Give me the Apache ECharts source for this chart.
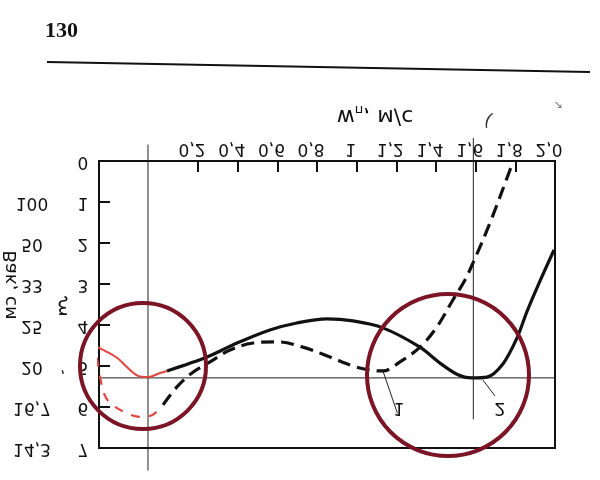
<!DOCTYPE html>
<html>
<head>
<meta charset="utf-8">
<script src="https://cdn.jsdelivr.net/npm/echarts@6/dist/echarts.min.js"></script>
<style>
  html, body { margin: 0; background: #fff; }
  #chart { width: 600px; height: 480px; }
</style>
</head>
<body>
<div id="chart"></div>
<script>
// шкала скоростей сверху и номер моды слева
const xTicks = [0.2, 0.4, 0.6, 0.8, 1.0, 1.2, 1.4, 1.6, 1.8, 2.0]
const xTickLabels = ['0,2', '0,4', '0,6', '0,8', '1', '1,2', '1,4', '1,6', '1,8', '2,0']
const yTicks = [0, 1, 2, 3, 4, 5, 6, 7]
const yTickLabels = ['0', '1', '2', '3', '4', '5', '6', '7']
const lambdaLabels = ['', '100', '50', '33', '25', '20', '16,7', '14,3']

// кривая 2 (сплошная) и кривая 1 (штриховая)
const curve2 = [[0.043, 5.12], [0.245, 4.78], [0.396, 4.44], [0.562, 4.12], [0.698, 3.95], [0.85, 3.85],
  [0.981, 3.9], [1.132, 4.07], [1.319, 4.54], [1.42, 4.93], [1.505, 5.2], [1.581, 5.29], [1.657, 5.27],
  [1.737, 4.95], [1.808, 4.32], [1.858, 3.68], [1.924, 2.93], [1.995, 2.17]]
const curve1 = [[0.023, 5.95], [0.093, 5.51], [0.169, 5.17], [0.26, 4.9], [0.361, 4.61], [0.477, 4.44],
  [0.598, 4.41], [0.729, 4.54], [0.865, 4.78], [0.981, 5.0], [1.067, 5.1], [1.132, 5.12], [1.218, 4.9],
  [1.319, 4.54], [1.404, 4.05], [1.485, 3.39], [1.546, 2.9], [1.586, 2.49], [1.672, 1.51], [1.773, 0.22],
  [1.79, 0.0]]
// красные дорисовки
const redSolid = [[-0.32, 4.51], [-0.27, 4.63], [-0.209, 4.8], [-0.154, 5.05], [-0.103, 5.24],
  [-0.053, 5.27], [0.008, 5.17], [0.043, 5.12]]
const redDashed = [[-0.31, 4.8], [-0.28, 5.59], [-0.245, 5.9], [-0.159, 6.15], [-0.093, 6.24],
  [-0.033, 6.2], [0.023, 5.95]]
// тонкие линии
const hLine = [[-0.33, 5.29], [2.0, 5.29]]
const vLine1 = [[-0.053, -0.4], [-0.053, 7.55]]
const vLine2 = [[1.588, -0.56], [1.588, 6.3]]
const leader1 = [[1.132, 5.12], [1.205, 6.15]]
const leader2 = [[1.636, 5.34], [1.697, 5.73]]

const FONT = 'DejaVu Sans'
const INK = '#111'

function line(data, color, width, type, smooth, z) {
  return {
    type: 'line', data, smooth, symbol: 'none', clip: false, silent: true,
    lineStyle: { color, width, type }, z
  }
}

const chart = echarts.init(document.getElementById('chart'))
chart.setOption({
  animation: false,
  backgroundColor: '#fff',
  grid: { left: 99, right: 45, top: 161, bottom: 32, show: true, borderColor: INK, borderWidth: 2 },
  xAxis: {
    type: 'value', position: 'top', min: -0.3, max: 2.0,
    axisLine: { show: true, onZero: false, lineStyle: { color: INK, width: 2 } },
    axisTick: { show: true, inside: true, length: 11, customValues: xTicks, lineStyle: { color: INK, width: 2 } },
    axisLabel: { show: false },
    splitLine: { show: false }
  },
  yAxis: {
    type: 'value', inverse: true, min: 0, max: 7, interval: 1,
    axisLine: { show: true, onZero: false, lineStyle: { color: INK, width: 2 } },
    axisTick: { show: true, inside: true, length: 11, lineStyle: { color: INK, width: 2 } },
    axisLabel: { show: false },
    splitLine: { show: false }
  },
  series: [
    line(hLine, '#222', 1, 'solid', false, 2),
    line(vLine1, '#222', 1, 'solid', false, 2),
    line(vLine2, '#222', 1, 'solid', false, 2),
    line(leader1, '#222', 1, 'solid', false, 2),
    line(leader2, '#222', 1, 'solid', false, 2),
    line(curve2, INK, 3.2, 'solid', 0.3, 5),
    line(curve1, INK, 3.2, [13, 7], 0.35, 5),
    line(redSolid, '#e0453f', 2, 'solid', 0.35, 6),
    line(redDashed, '#e0453f', 2.2, [9, 9], 0.35, 6)
  ]
})

// подписи в скане перевёрнуты по вертикали
function flipText(x, y, text, size, extra) {
  return Object.assign({
    type: 'text', x, y, scaleY: -1, z: 100, silent: true,
    style: {
      text, fontSize: size, fontFamily: FONT, fill: INK,
      align: 'center', verticalAlign: 'middle', textAlign: 'center', textVerticalAlign: 'middle'
    }
  }, extra || {})
}

const graphics = []
xTicks.forEach((v, i) => {
  const px = chart.convertToPixel({ xAxisIndex: 0 }, v)
  graphics.push(flipText(px - 6, 148, xTickLabels[i], 17))
})
yTicks.forEach((v, i) => {
  const py = chart.convertToPixel({ yAxisIndex: 0 }, v)
  graphics.push(flipText(83, py, yTickLabels[i], 17))
  if (lambdaLabels[i]) graphics.push(flipText(32, py, lambdaLabels[i], 17))
})

graphics.push(
  // номер страницы и линейка
  { type: 'text', x: 45, y: 31, z: 100, style: { text: '130', font: 'bold 22px "Liberation Serif"', fill: INK, align: 'left', verticalAlign: 'middle' } },
  { type: 'line', shape: { x1: 47, y1: 62, x2: 590, y2: 72 }, style: { stroke: INK, lineWidth: 2 }, z: 100 },
  // заголовок оси скоростей
  {
    type: 'text', x: 375, y: 116, scaleY: -1, z: 100,
    style: {
      text: '{a|w}{b|п}{a|, м/с}', align: 'center', verticalAlign: 'middle',
      rich: {
        a: { fontSize: 22, fontFamily: FONT, fill: INK, lineHeight: 26, verticalAlign: 'middle' },
        b: { fontSize: 13, fontFamily: FONT, fill: INK, lineHeight: 13, verticalAlign: 'bottom' }
      }
    }
  },
  // боковая подпись длин волн
  {
    type: 'text', x: 11, y: 285, rotation: -Math.PI / 2, scaleY: -1, z: 100,
    style: { text: 'Вак, см', fontSize: 18, fontFamily: FONT, fill: INK, align: 'center', verticalAlign: 'middle' }
  },
  flipText(63, 305, 'ξ', 20),
  flipText(63, 376, ',', 15),
  flipText(399, 407, '1', 17),
  flipText(500, 408, '2', 18),
  { type: 'text', x: 488, y: 121, rotation: -0.4, z: 100, style: { text: '(', fontSize: 18, fontFamily: FONT, fill: '#333', align: 'center', verticalAlign: 'middle' } },
  { type: 'text', x: 558, y: 105, z: 100, style: { text: '↘', fontSize: 11, fontFamily: FONT, fill: '#777', align: 'center', verticalAlign: 'middle' } },
  // красные круги-пометки
  { type: 'circle', shape: { cx: 143, cy: 366, r: 63 }, style: { fill: 'none', stroke: '#7b1526', lineWidth: 4 }, z: 200 },
  { type: 'circle', shape: { cx: 448, cy: 375, r: 81 }, style: { fill: 'none', stroke: '#7b1526', lineWidth: 4 }, z: 200 }
)

chart.setOption({ graphic: graphics })
</script>
</body>
</html>
